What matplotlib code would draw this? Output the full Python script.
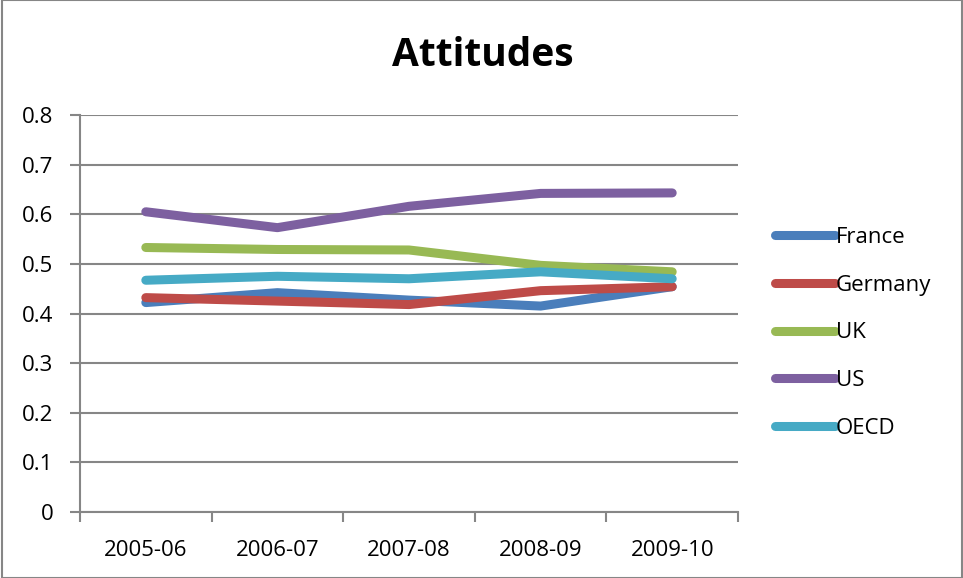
import matplotlib.pyplot as plt
from matplotlib.patches import Rectangle

plt.rcParams['font.family'] = ['Open Sans', 'DejaVu Sans']

years = ['2005-06', '2006-07', '2007-08', '2008-09', '2009-10']
france = [0.422, 0.442, 0.427, 0.415, 0.454]
germany = [0.432, 0.425, 0.418, 0.446, 0.454]
uk = [0.533, 0.529, 0.528, 0.497, 0.484]
us = [0.605, 0.573, 0.616, 0.642, 0.643]
oecd = [0.467, 0.475, 0.470, 0.484, 0.470]

names = ['France', 'Germany', 'UK', 'US', 'OECD']
colors = ['#4A7EBB', '#BE4B48', '#98B954', '#7D60A0', '#46AAC5']

fig = plt.figure(figsize=(9.63, 5.78), dpi=100)
W, H = 963, 578
ax = fig.add_axes([80 / W, 1 - 512 / H, (738 - 80) / W, (512 - 115) / H])

x = list(range(len(years)))
for vals, name, c in zip([france, germany, uk, us, oecd], names, colors):
    ax.plot(x, vals, color=c, lw=6.5, solid_capstyle='round',
            solid_joinstyle='round', label=name)

ax.set_xlim(-0.5, len(years) - 0.5)
ax.set_ylim(0, 0.8)
ax.set_yticks([i / 10 for i in range(9)])
ax.set_yticklabels(['0', '0.1', '0.2', '0.3', '0.4', '0.5', '0.6', '0.7', '0.8'])
ax.set_xticks(x)
ax.set_xticklabels(years)
ax.set_xticks([i - 0.5 for i in range(len(years) + 1)], minor=True)

ax.grid(axis='y', color='#868686', lw=1.5)
ax.set_axisbelow(True)
for s in ['top', 'right']:
    ax.spines[s].set_visible(False)
for s in ['left', 'bottom']:
    ax.spines[s].set_color('#868686')
    ax.spines[s].set_linewidth(1.5)

ax.tick_params(axis='y', length=7, width=1.5, color='#868686',
               labelsize=16, pad=12)
ax.tick_params(axis='x', which='major', length=0, labelsize=16, pad=20)
ax.tick_params(axis='x', which='minor', length=7, width=1.5, color='#868686')

fig.text(483 / W, 1 - 56 / H, 'Attitudes', ha='center', va='center',
         fontsize=28, fontweight='bold')

fig.legend(loc='upper left', bbox_to_anchor=(775 / W, 1 - 227 / H),
           frameon=False, fontsize=16, handlelength=2.7, handletextpad=0.05,
           labelspacing=1.2, borderaxespad=0, borderpad=0)

fig.patches.append(Rectangle((2 / W, 0), 960 / W, 1, transform=fig.transFigure,
                             fill=False, ec='#868686', lw=1.5))

fig.savefig('out.png', dpi=100)
